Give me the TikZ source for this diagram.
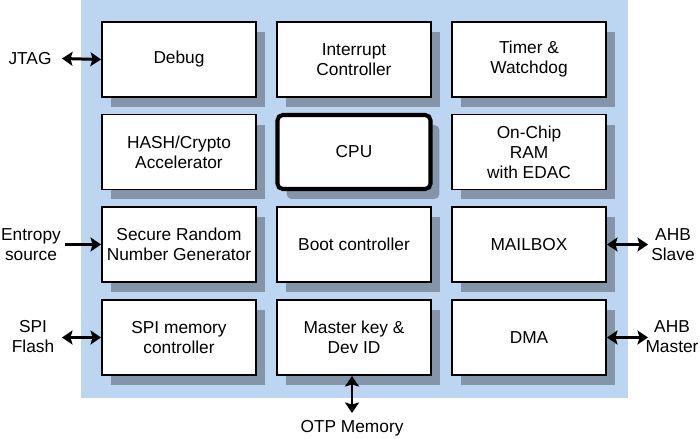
\documentclass[tikz,border=0pt]{standalone}
\usepackage{fontspec}
\setmainfont{Liberation Sans}
\usetikzlibrary{arrows.meta,shadows}

\definecolor{bgblue}{HTML}{BCD5F0}
\definecolor{shadowgray}{HTML}{8595A9}

\begin{document}
\begin{tikzpicture}[x=0.02cm,y=-0.02cm,
    every node/.style={font=\fontsize{9.85}{11.4}\selectfont, align=center},
    block/.style={draw=black, fill=white, line width=1.13pt,
        minimum width=3.08cm, minimum height=1.5cm, inner sep=0pt,
        general shadow={fill=shadowgray, shadow xshift=0.18cm, shadow yshift=-0.2cm}},
    cpublock/.style={block, line width=2.3pt, rounded corners=3pt,
        minimum width=3.06cm, minimum height=1.48cm},
    link/.style={line width=1.7pt, {Stealth[length=6pt,width=8pt,inset=1.2pt]}-{Stealth[length=6pt,width=8pt,inset=1.2pt]}},
    inlink/.style={line width=1.7pt, -{Stealth[length=6pt,width=8pt,inset=1.2pt]}}]

    \useasboundingbox (0,0) rectangle (700,439);
    \fill[bgblue] (81,0) rectangle (628,398);

    \node[block] (debug) at (179,59.5) {Debug};
    \node[block] (irq) at (354,59.5) {Interrupt\\Controller};
    \node[block] (timer) at (529,59.5) {Timer \&\\Watchdog};

    \node[block] (hash) at (179,152) {HASH/Crypto\\Accelerator};
    \node[cpublock] (cpu) at (354,152) {CPU};
    \node[block] (ram) at (529,152) {On-Chip\\RAM\\with EDAC};

    \node[block] (trng) at (179,244.5) {Secure Random\\Number Generator};
    \node[block] (boot) at (354,244.5) {Boot controller};
    \node[block] (mailbox) at (529,244.5) {MAILBOX};

    \node[block] (spi) at (179,337.5) {SPI memory\\controller};
    \node[block] (key) at (354,337.5) {Master key \&\\Dev ID};
    \node[block] (dma) at (529,337.5) {DMA};

    % outside signals
    \node (jtag) at (30,58.5) {JTAG};
    \node (entropy) at (31,244.5) {Entropy\\source};
    \node (flash) at (33,337) {SPI\\Flash};
    \node (slave) at (673,245) {AHB\\Slave};
    \node (master) at (672,337) {AHB\\Master};
    \node (otp) at (352,428) {OTP Memory};

    \coordinate (jtag-end) at (62,58.5);
    \coordinate (entropy-end) at (65,244.5);
    \coordinate (flash-end) at (62,337.5);
    \coordinate (slave-end) at (648,244.5);
    \coordinate (master-end) at (648,337.5);
    \coordinate (otp-end) at (352,413);

    \draw[link] (jtag-end) -- (debug.west);
    \draw[inlink] (entropy-end) -- (trng.west);
    \draw[link] (flash-end) -- (spi.west);
    \draw[link] (mailbox.east) -- (slave-end);
    \draw[link] (dma.east) -- (master-end);
    \draw[link] (key.south -| otp-end) -- (otp-end);

\end{tikzpicture}
\end{document}
